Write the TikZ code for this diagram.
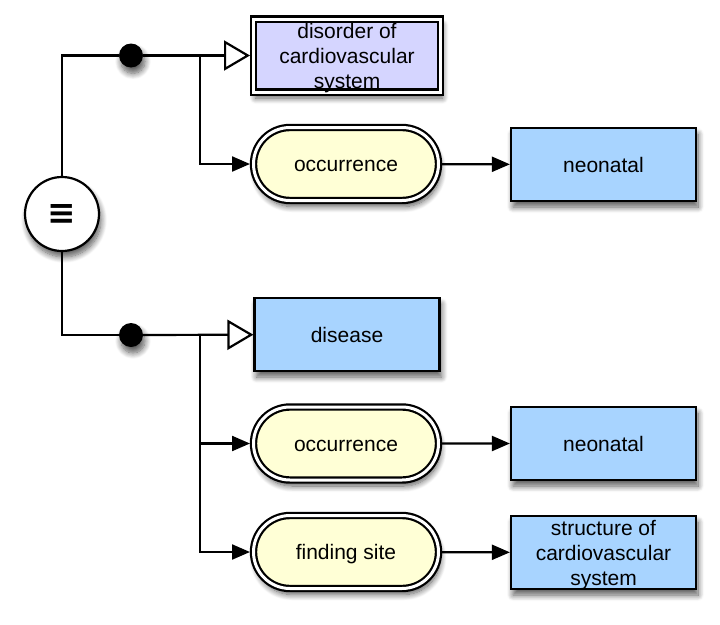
\documentclass[tikz,border=0pt]{standalone}
\usepackage{fontspec}
\setmainfont{Liberation Sans}
\newfontfamily\symbfont{DejaVu Sans}
\usetikzlibrary{arrows.meta}
\usetikzlibrary{shapes.misc}
\usetikzlibrary{shadows.blur}
\definecolor{conceptblue}{RGB}{168,212,255}
\definecolor{defviolet}{RGB}{213,213,255}
\definecolor{attryellow}{RGB}{255,255,214}
\tikzset{
  castshadow/.style={blur shadow={shadow xshift=2pt,shadow yshift=-6pt,shadow blur radius=6pt,
    shadow blur steps=10,shadow opacity=65}},
  oneline/.style={text height=15pt,text depth=0pt},
  concept/.style={draw,line width=2.2pt,fill=conceptblue,castshadow,minimum width=185pt,
    minimum height=73pt,inner sep=0pt,align=center,text depth=0pt},
  defconcept/.style={draw,line width=2.2pt,double=white,double distance=3pt,fill=defviolet,
    castshadow,minimum width=187pt,minimum height=73pt,inner sep=0pt,outer sep=3.5pt,align=center,
    text depth=0pt},
  attr/.style={rounded rectangle,draw,line width=2.2pt,double=white,double distance=3pt,
    fill=attryellow,castshadow,minimum width=185pt,minimum height=73pt,inner sep=0pt,outer sep=3.5pt,
    oneline},
  equivnode/.style={circle,draw,line width=2.2pt,fill=white,castshadow,minimum size=74pt,inner sep=0pt,
    font=\fontsize{34}{34}\symbfont\bfseries},
  conj/.style={circle,fill=black,castshadow,minimum size=24pt,inner sep=0pt},
  link/.style={line width=2.2pt},
  isa/.style={link,-{Triangle[open,length=26pt,width=30pt,line width=2.2pt]}},
  role/.style={link,-{Triangle[length=18pt,width=15pt]}}
}
\begin{document}
\begin{tikzpicture}[x=1pt,y=-1pt,font=\fontsize{21}{25}\selectfont]
                    \path[use as bounding box] (0,0) rectangle (720,624);
                    \node[equivnode] (eqv) at (62,214) {≡};
                    \node[conj] (dot1) at (131,55.5) {};
                    \node[conj] (dot2) at (131,335) {};
                    \coordinate (fork1) at (200,55.5);
                    \coordinate (fork2) at (200,335);
                    \node[defconcept] (disorder) at (347,55.5) {disorder of\\cardiovascular\\system};
                    \node[attr] (occ1) at (346,164) {occurrence};
                    \node[concept,oneline] (neo1) at (603.5,164.5) {neonatal};
                    \node[concept,oneline] (disease) at (347,334.5) {disease};
                    \node[attr] (occ2) at (346,443.5) {occurrence};
                    \node[concept,oneline] (neo2) at (603.5,443.5) {neonatal};
                    \node[attr] (site) at (346,552) {finding site};
                    \node[concept] (structure) at (603.5,552.5) {structure of\\cardiovascular\\system};
                    \draw[link] (eqv.north) |- (dot1);
                    \draw[link] (eqv.south) |- (dot2);
                    \draw[isa] (dot1) -- (disorder);
                    \draw[isa] (dot2) -- (disease);
                    \draw[role] (fork1) |- (occ1);
                    \draw[role] (fork2) |- (occ2);
                    \draw[role] (fork2) |- (site);
                    \draw[role] (occ1) -- (neo1);
                    \draw[role] (occ2) -- (neo2);
                    \draw[role] (site) -- (structure);
                \end{tikzpicture}
\end{document}
